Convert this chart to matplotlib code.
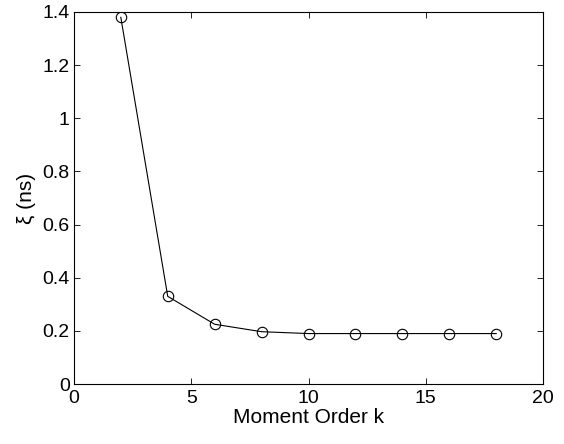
import numpy as np
from matplotlib import pyplot as plt

plt.rcParams['font.family'] = ['Liberation Sans', 'DejaVu Sans']

k_order = [2, 4, 6, 8, 10, 12, 14, 16, 18]
xi_ns = [1.38, 0.33, 0.225, 0.197, 0.19, 0.19, 0.19, 0.19, 0.19]
x_ticks = [0, 5, 10, 15, 20]
y_ticks = [0, 0.2, 0.4, 0.6, 0.8, 1.0, 1.2, 1.4]
y_labels = ['0', '0.2', '0.4', '0.6', '0.8', '1', '1.2', '1.4']


def plot_graph():
    fig = plt.figure(figsize=(5.64, 4.44), dpi=100)
    ax = fig.add_axes([0.131, 0.135, 0.832, 0.838])
    ax.plot(np.asarray(k_order), np.asarray(xi_ns), color='black', lw=0.8,
            marker='o', markersize=7.5, markerfacecolor='none',
            markeredgecolor='black', markeredgewidth=0.8)
    ax.set_xlim(0, 20)
    ax.set_ylim(0, 1.4)
    ax.set_xticks(x_ticks)
    ax.set_yticks(y_ticks)
    ax.set_yticklabels(y_labels)
    ax.tick_params(direction='in', top=True, right=True, labelsize=14,
                   length=4, width=0.6, pad=3)
    ax.tick_params(axis='x', pad=4)
    for sp in ax.spines.values():
        sp.set_linewidth(0.8)
    ax.set_xlabel('Moment Order k', fontsize=15, labelpad=1)
    ax.set_ylabel('\u03be (ns)', fontsize=15, labelpad=5)
    fig.savefig('out.png', dpi=100)


if __name__ == '__main__':
    plot_graph()
